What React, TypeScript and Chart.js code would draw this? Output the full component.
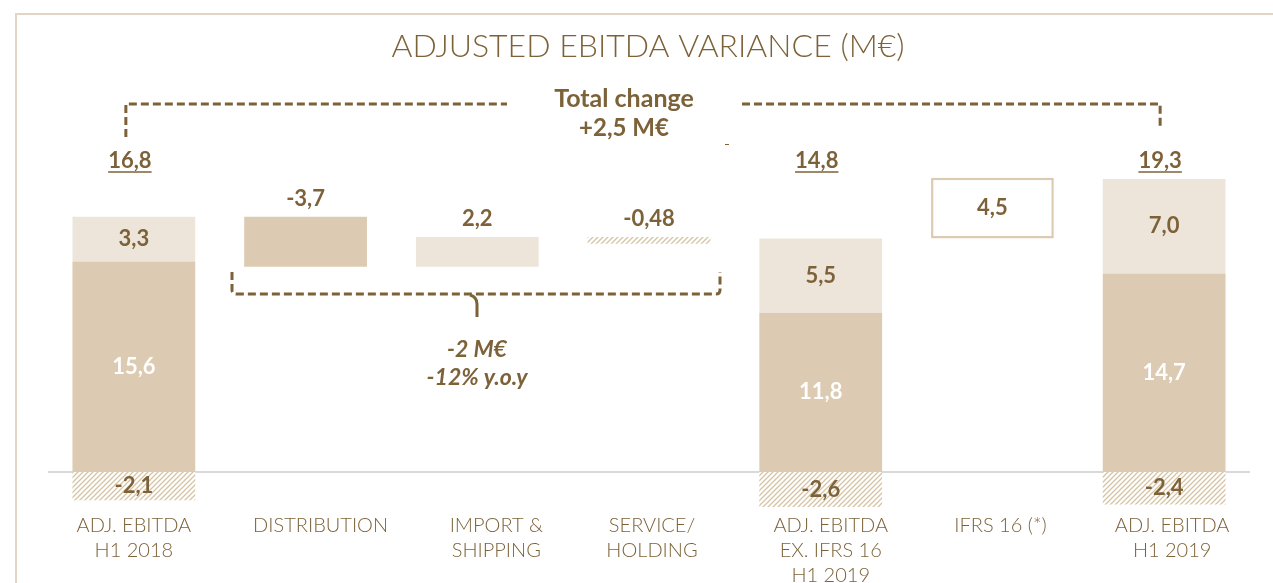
import React, { useEffect, useRef } from "react";
import { Chart, registerables } from "chart.js";

Chart.register(...registerables);

const categories: string[][] = [
  ["ADJ. EBITDA", "H1 2018"],
  ["DISTRIBUTION"],
  ["IMPORT &", "SHIPPING"],
  ["SERVICE/", "HOLDING"],
  ["ADJ. EBITDA", "EX. IFRS 16", "H1 2019"],
  ["IFRS 16 (*)"],
  ["ADJ. EBITDA", "H1 2019"],
];

// floating ranges [start, end] in M€
const darkValues = [[0, 15.6], [15.2, 18.9], null, null, [0, 11.8], null, [0, 14.7]];
const lightValues = [[15.6, 18.9], null, [15.2, 17.4], null, [11.8, 17.3], null, [14.7, 21.7]];
const hatchValues = [[-2.1, 0], null, null, [16.9, 17.4], [-2.6, 0], null, [-2.4, 0]];
const boxValues = [null, null, null, null, null, [17.3, 21.8], null];

const darkLabels = ["15,6", "-3,7", null, null, "11,8", null, "14,7"];
const lightLabels = ["3,3", null, "2,2", null, "5,5", null, "7,0"];
const hatchLabels = ["-2,1", null, null, "-0,48", "-2,6", null, "-2,4"];
const boxLabels = [null, null, null, null, null, "4,5", null];
const totalLabels = ["16,8", null, null, null, "14,8", null, "19,3"];
const deltaIndexes = [1, 2, 3];

const titleText = "ADJUSTED EBITDA VARIANCE (M€)";
const totalChangeText = ["Total change", "+2,5 M€"];
const subChangeText = ["-2 M€", "-12% y.o.y"];

const BROWN = "#7d6239";
const DARK = "#dccbb2";
const LIGHT = "#ede5da";
const FONT = "Lato, 'Open Sans', sans-serif";
// layout: horizontal nudge of the category captions, px
const CAPTION_SHIFT = [0, 15, 19, 3, 10, 8, 8];

function makeHatch(): CanvasPattern | string {
  const c = document.createElement("canvas");
  c.width = 5;
  c.height = 5;
  const g = c.getContext("2d");
  if (!g) return DARK;
  g.fillStyle = "#ffffff";
  g.fillRect(0, 0, 5, 5);
  g.strokeStyle = "#d6c3a4";
  g.lineWidth = 1.3;
  g.beginPath();
  g.moveTo(-1, 6);
  g.lineTo(6, -1);
  g.moveTo(-1, 1);
  g.lineTo(1, -1);
  g.moveTo(4, 6);
  g.lineTo(6, 4);
  g.stroke();
  const p = g.createPattern(c, "repeat");
  return p || DARK;
}

const overlayPlugin = {
  id: "overlay",
  beforeDraw(chart: any) {
    const ctx = chart.ctx;
    ctx.save();
    ctx.fillStyle = "#ffffff";
    ctx.fillRect(0, 0, chart.width, chart.height);
    // frame
    ctx.strokeStyle = "#e2d6c2";
    ctx.lineWidth = 2;
    ctx.beginPath();
    ctx.moveTo(16, chart.height);
    ctx.lineTo(16, 14);
    ctx.lineTo(chart.width, 14);
    ctx.stroke();
    // zero line
    const y0 = chart.scales.y.getPixelForValue(0);
    ctx.strokeStyle = "#d9d9d9";
    ctx.lineWidth = 2;
    ctx.beginPath();
    ctx.moveTo(chart.chartArea.left, y0);
    ctx.lineTo(chart.chartArea.right, y0);
    ctx.stroke();
    ctx.restore();
  },
  afterDatasetsDraw(chart: any) {
    const ctx = chart.ctx;
    const xs = chart.scales.x;
    ctx.save();
    ctx.textAlign = "center";
    ctx.textBaseline = "middle";

    // title
    ctx.fillStyle = BROWN;
    ctx.font = `300 32px ${FONT}`;
    ctx.fillText(titleText, 648, 47);

    const labelSets: [number, (string | null)[]][] = [
      [0, darkLabels],
      [1, lightLabels],
      [2, hatchLabels],
      [3, boxLabels],
    ];
    ctx.font = `bold 22px ${FONT}`;
    labelSets.forEach(([di, labels]) => {
      const meta = chart.getDatasetMeta(di);
      labels.forEach((t, i) => {
        if (!t) return;
        const el: any = meta.data[i];
        if (!el) return;
        const top = Math.min(el.y, el.base);
        const mid = (el.y + el.base) / 2;
        if (deltaIndexes.includes(i)) {
          ctx.fillStyle = BROWN;
          ctx.fillText(t, el.x, top - 18);
        } else {
          ctx.fillStyle = di === 0 ? "#ffffff" : BROWN;
          ctx.fillText(t, el.x, mid);
        }
      });
    });

    // totals, underlined
    ctx.fillStyle = BROWN;
    ctx.strokeStyle = BROWN;
    ctx.font = `bold 22px ${FONT}`;
    totalLabels.forEach((t, i) => {
      if (!t) return;
      const x = xs.getPixelForValue(i) - 4;
      const y = 161;
      ctx.fillText(t, x, y);
      const w = ctx.measureText(t).width;
      ctx.lineWidth = 1.6;
      ctx.beginPath();
      ctx.moveTo(x - w / 2, y + 11);
      ctx.lineTo(x + w / 2, y + 11);
      ctx.stroke();
    });

    // top bracket
    const xL = xs.getPixelForValue(0) - 8;
    const xR = xs.getPixelForValue(6) - 4;
    ctx.setLineDash([8, 4]);
    ctx.lineWidth = 3;
    ctx.beginPath();
    ctx.moveTo(xL, 137);
    ctx.lineTo(xL, 104);
    ctx.lineTo(507, 104);
    ctx.moveTo(742, 104);
    ctx.lineTo(xR, 104);
    ctx.lineTo(xR, 129);
    ctx.stroke();

    // bottom bracket
    ctx.beginPath();
    ctx.moveTo(232, 272);
    ctx.lineTo(232, 290);
    ctx.quadraticCurveTo(232, 294, 237, 294);
    ctx.lineTo(716, 294);
    ctx.quadraticCurveTo(720, 294, 720, 290);
    ctx.lineTo(720, 272);
    ctx.stroke();
    ctx.setLineDash([]);
    ctx.beginPath();
    ctx.moveTo(470, 295);
    ctx.quadraticCurveTo(477, 297, 477, 304);
    ctx.lineTo(477, 317);
    ctx.stroke();

    // small stray mark
    ctx.lineWidth = 1;
    ctx.beginPath();
    ctx.moveTo(725, 144.5);
    ctx.lineTo(729, 144.5);
    ctx.stroke();

    // annotation texts
    ctx.font = `bold 25px ${FONT}`;
    ctx.fillText(totalChangeText[0], 624, 99);
    ctx.font = `bold 24px ${FONT}`;
    ctx.fillText(totalChangeText[1], 624, 128);
    ctx.font = `italic bold 23px ${FONT}`;
    ctx.fillText(subChangeText[0], 477, 350);
    ctx.fillText(subChangeText[1], 477, 378);

    // category labels
    ctx.font = `300 20px ${FONT}`;
    categories.forEach((lines, i) => {
      const x = xs.getPixelForValue(i) + CAPTION_SHIFT[i];
      lines.forEach((ln, k) => {
        ctx.fillText(ln, x, 526 + k * 25);
      });
    });
    ctx.restore();
  },
};

export default function App() {
  const ref = useRef<HTMLCanvasElement | null>(null);
  useEffect(() => {
    if (!ref.current) return;
    const hatch = makeHatch();
    const chart = new Chart(ref.current, {
      type: "bar",
      data: {
        labels: categories.map((c) => c.join(" ")),
        datasets: [
          { data: darkValues as any, backgroundColor: DARK, borderWidth: 0 },
          { data: lightValues as any, backgroundColor: LIGHT, borderWidth: 0 },
          { data: hatchValues as any, backgroundColor: hatch as any, borderWidth: 0 },
          {
            data: boxValues as any,
            backgroundColor: "#ffffff",
            borderColor: DARK,
            borderWidth: 2.5,
            borderSkipped: false,
          },
        ],
      },
      options: {
        animation: false,
        responsive: false,
        layout: { padding: { left: 48, right: 23, top: 148, bottom: 70.5 } },
        plugins: { legend: { display: false }, tooltip: { enabled: false } },
        datasets: {
          bar: { grouped: false, categoryPercentage: 1, barPercentage: 0.715 },
        } as any,
        scales: {
          x: { display: false },
          y: { display: false, min: -3, max: 24 },
        },
      },
      plugins: [overlayPlugin],
    });
    return () => chart.destroy();
  }, []);
  return (
    <div style={{ position: "fixed", left: 0, top: 0, width: 1273, height: 583 }}>
      <canvas ref={ref} width={1273} height={583} style={{ width: 1273, height: 583 }} />
    </div>
  );
}
